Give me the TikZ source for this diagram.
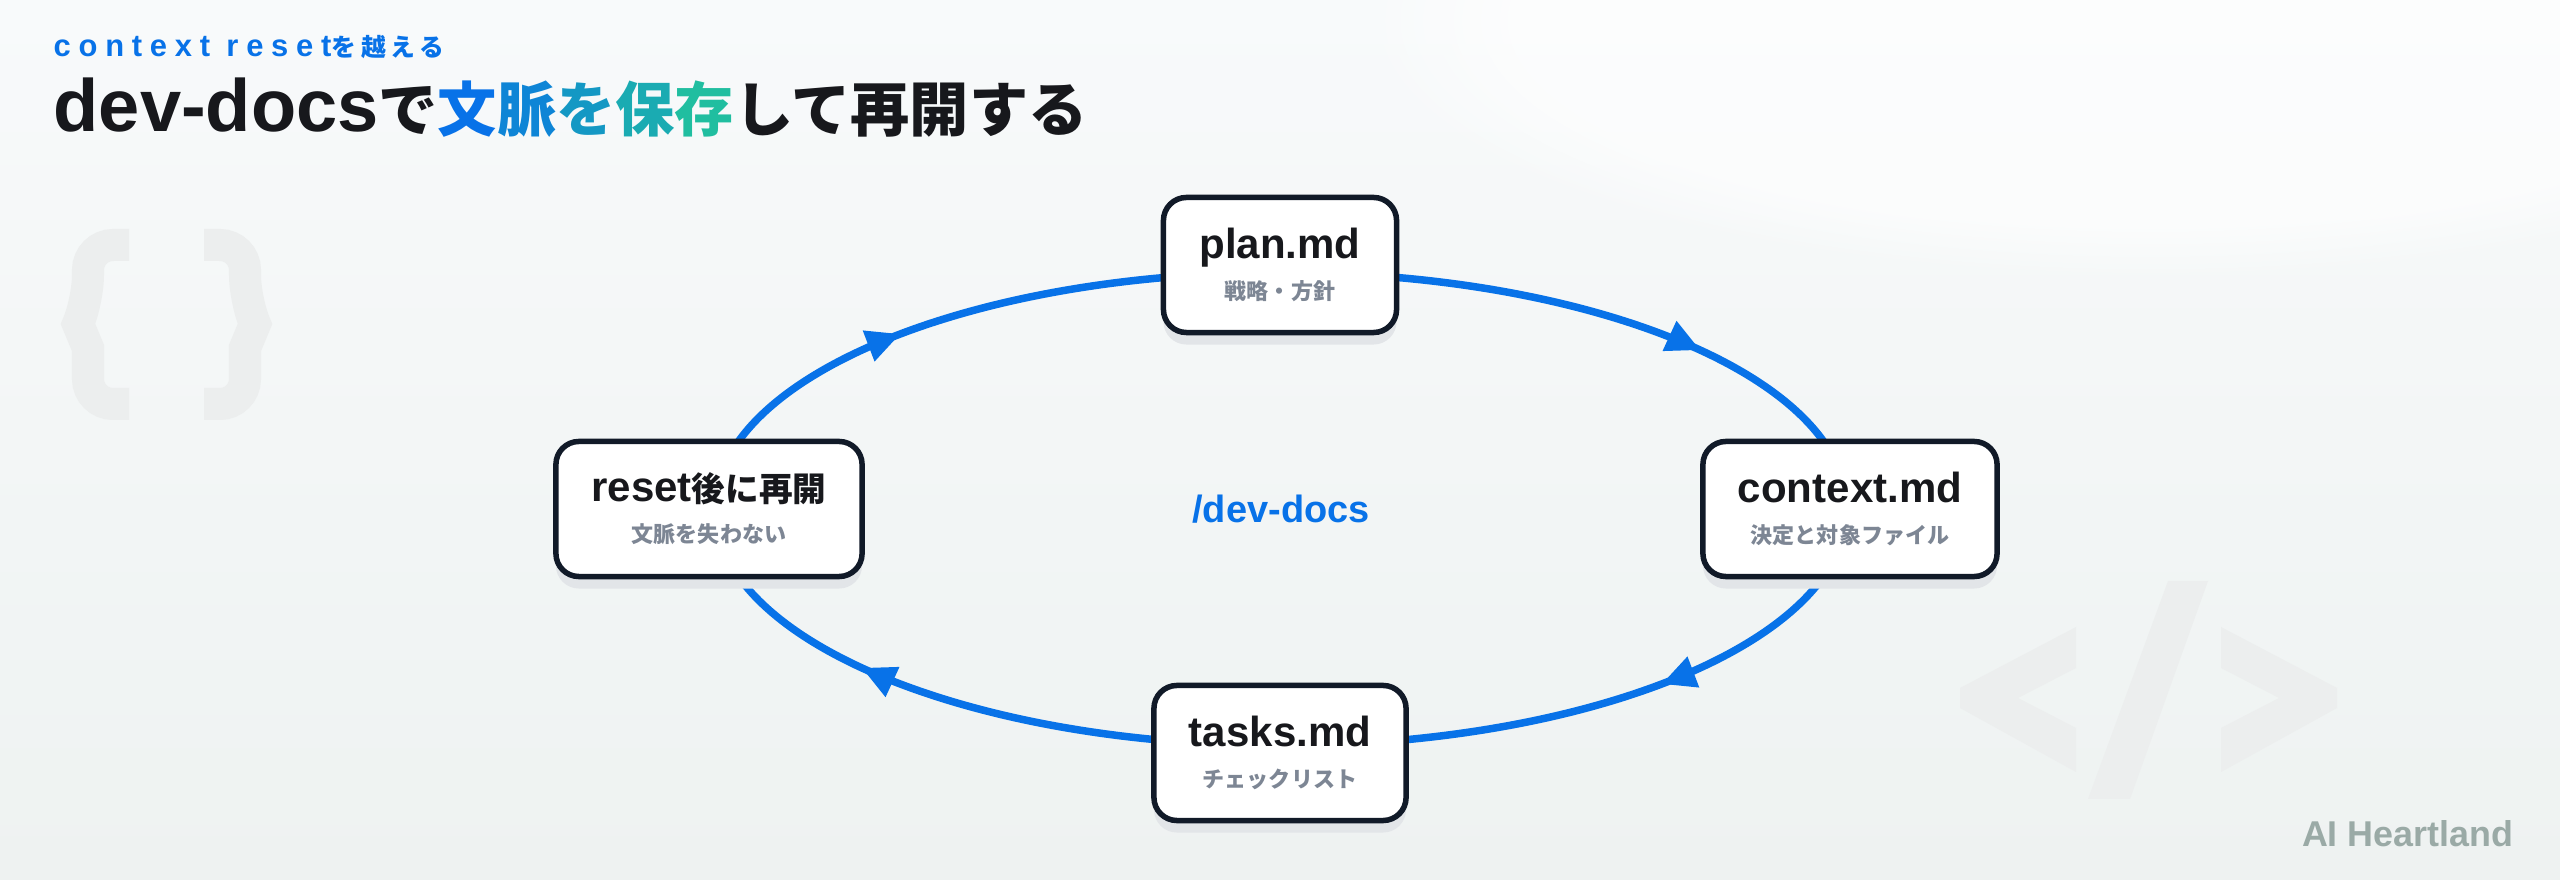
\documentclass[tikz,border=0pt]{standalone}
\usepackage{fontspec}
\setmainfont{Liberation Sans}
\newfontfamily\jp{Noto Sans CJK JP}[Scale=0.8]
\usetikzlibrary{positioning,arrows.meta,decorations.markings,shadows,fadings}
\definecolor{DocBlue}{RGB}{8,114,232}
\definecolor{GradEnd}{RGB}{32,190,160}
\definecolor{TitleInk}{RGB}{23,24,28}
\definecolor{BoxLine}{RGB}{17,26,40}
\definecolor{SubInk}{RGB}{125,134,148}
\definecolor{ShadowGray}{RGB}{226,229,232}
\definecolor{WaterGray}{RGB}{236,238,238}
\definecolor{BrandGray}{RGB}{154,170,166}
\definecolor{BgTop}{RGB}{248,250,251}
\definecolor{BgBottom}{RGB}{238,242,241}
\newcommand\subnote{\jp\fontsize{7.83}{9}\selectfont\color{SubInk}}
\tikzset{
  ring/.style={line width=0.75mm,draw=DocBlue,postaction={decorate},
    decoration={markings,
      mark=at position 0.1026 with {\arrow{Triangle[length=3.4mm,width=3.1mm]}},
      mark=at position 0.4134 with {\arrow{Triangle[length=3.4mm,width=3.1mm]}},
      mark=at position 0.6026 with {\arrow{Triangle[length=3.4mm,width=3.1mm]}},
      mark=at position 0.9134 with {\arrow{Triangle[length=3.4mm,width=3.1mm]}}}},
  filebox/.style={draw=BoxLine,line width=0.55mm,fill=white,rounded corners=2.3mm,
    minimum height=13.5mm,inner xsep=0pt,align=center,text=TitleInk,
    font=\fontsize{11.95}{11.7}\selectfont\bfseries,
    drop shadow={shadow xshift=0mm,shadow yshift=-1.2mm,fill=ShadowGray,opacity=1}},
  watermark/.style={fill=WaterGray,draw=none}
}

\begin{document}
\begin{tikzpicture}[x=0.01cm,y=-0.01cm]
  \useasboundingbox (0,0) rectangle (2560,880);
  \fill[top color=BgTop,bottom color=BgBottom] (0,0) rectangle (2560,880);
  \begin{scope}
    \clip (0,0) rectangle (2560,880);
    \fill[white,opacity=0.6,path fading=circle with fuzzy edge 20 percent] (2150,20) ellipse [x radius=800,y radius=260];
  \end{scope}

  % background marks
  \draw[WaterGray,line width=3.2mm,line join=miter]
    (129,245) [rounded corners=2.5mm] -- (88,245) -- (88,300) [sharp corners] -- (78,324) -- (88,348)
    [rounded corners=2.5mm] -- (88,404) -- (129,404);
  \draw[WaterGray,line width=3.2mm,line join=miter]
    (204,245) [rounded corners=2.5mm] -- (245,245) -- (245,300) [sharp corners] -- (255,324) -- (245,348)
    [rounded corners=2.5mm] -- (245,404) -- (204,404);
  \fill[watermark] (2076,627) -- (1960,688) -- (1960,708) -- (2076,772) -- (2076,728) -- (2018,698) -- (2076,668) -- cycle;
  \fill[watermark] (2221,627) -- (2337,688) -- (2337,708) -- (2221,772) -- (2221,728) -- (2279,698) -- (2221,668) -- cycle;
  \fill[watermark] (2088,799) -- (2130,799) -- (2208,581) -- (2168,581) -- cycle;

  % heading
  \node[anchor=base west,inner sep=0pt,text=DocBlue,
    font=\fontsize{8.8}{10}\selectfont\bfseries\addfontfeatures{LetterSpace=25}] (kicker) at (53,57)
    {context reset{\jp\addfontfeatures{LetterSpace=20}を越える}};
  \node[anchor=base west,inner sep=0pt,text=TitleInk,
    font=\fontsize{21.05}{24}\selectfont\bfseries] (headline) at (53,132)
    {dev-docs{\jp で\textcolor{DocBlue}{文}\textcolor{GradEnd!25!DocBlue}{脈}\textcolor{GradEnd!50!DocBlue}{を}\textcolor{GradEnd!75!DocBlue}{保}\textcolor{GradEnd}{存}して再開する}};

  % cycle
  \node[text=DocBlue,font=\fontsize{10.8}{12}\selectfont\bfseries] (hub) at (1281,509) {/dev-docs};
  \draw[ring] (hub.center) ellipse [x radius=566,y radius=236.5];

  \node[filebox,minimum width=23.3mm] (plan) at (1280,265) {plan.md\\{\subnote 戦略・方針}};
  \node[filebox,minimum width=29.4mm] (context) at (1850,509) {context.md\\{\subnote 決定と対象ファイル}};
  \node[filebox,minimum width=25.2mm] (tasks) at (1280,753) {tasks.md\\{\subnote チェックリスト}};
  \node[filebox,minimum width=30.6mm] (resume) at (709,509) {reset{\jp 後に再開}\\{\subnote 文脈を失わない}};

  \node[anchor=base east,inner sep=0pt,text=BrandGray,
    font=\fontsize{10.2}{12}\selectfont\bfseries] (brand) at (2514,847) {AI Heartland};
\end{tikzpicture}
\end{document}
